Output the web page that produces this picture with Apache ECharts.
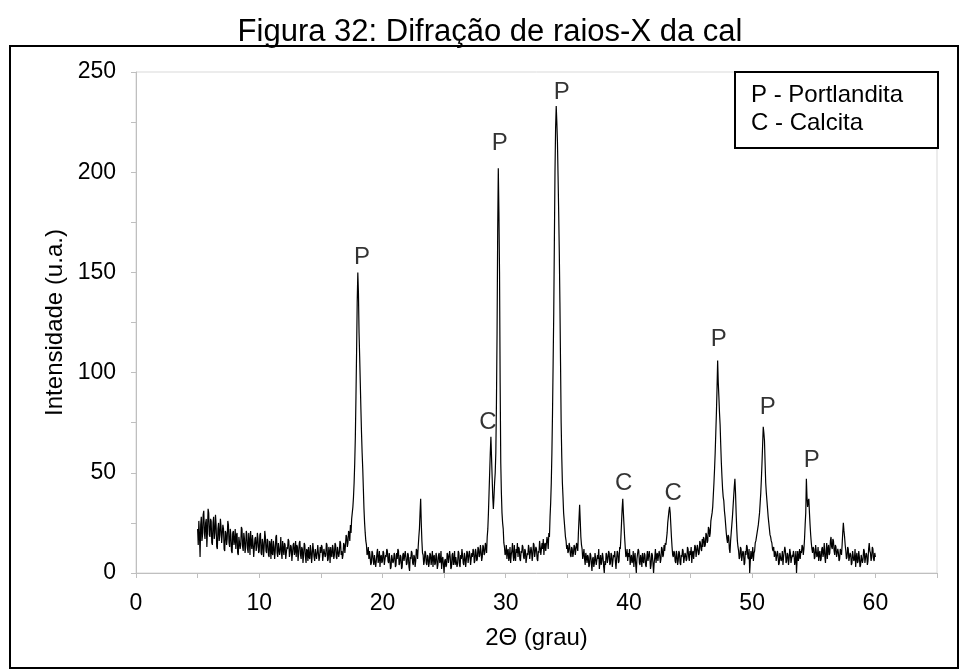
<!DOCTYPE html>
<html><head><meta charset="utf-8">
<script src="https://cdn.jsdelivr.net/npm/echarts@6/dist/echarts.min.js"></script>
<style>html,body{margin:0;padding:0;background:#fff}#c{width:964px;height:672px}</style>
</head><body><div id="c"></div>
<script>
// 2θ sampling grid of the measured pattern
const angleStart = 5.0;
const angleStep = 0.05;
// Intensity (u.a.), one row per degree (x.00 .. x.95)
const intensity = [
22,14,26,19,8,24,28,16,19,29,31,20,17,25,27,13,21,32,30,19,
18,27,26,15,14,25,28,17,20,29,24,13,12,22,25,16,19,27,23,15,
15,24,22,12,11,21,20,14,17,26,24,15,13,22,19,11,10,20,21,14,
16,22,12,19,20,10,9,18,18,12,14,23,22,13,11,20,17,10,13,21,
19,12,10,20,16,9,21,15,12,19,15,8,8,17,18,11,13,20,17,10,
11,19,20,10,9,17,15,8,13,21,18,11,10,17,16,9,8,16,14,7,
17,10,9,16,13,7,11,18,19,10,8,15,15,9,12,18,10,7,16,12,
9,15,14,7,7,13,12,17,16,8,10,14,13,6,6,14,15,9,11,16,
8,14,13,6,10,15,16,9,7,13,12,5,9,15,14,8,5,12,11,6,
13,8,7,14,11,5,9,15,15,8,6,12,12,7,10,14,14,6,8,13,
10,14,13,6,6,12,12,8,9,15,14,6,7,13,11,5,13,9,8,14,
12,7,9,15,14,8,7,13,13,8,10,16,15,9,11,7,9,15,14,10,
14,19,18,13,15,21,20,16,24,20,27,30,33,38,45,55,68,88,110,135,
150,140,120,108,95,82,70,60,52,42,32,25,20,16,14,9,10,13,7,11,
8,4,5,11,10,6,4,9,9,3,6,10,12,5,7,11,3,8,9,5,
6,11,10,4,4,9,8,12,11,6,5,10,7,2,3,9,9,5,6,10,
9,3,4,10,7,12,11,4,5,9,8,2,3,9,10,6,6,11,8,4,
5,10,9,3,1,8,7,11,10,5,4,9,8,3,6,12,11,7,13,18,
22,30,37,25,16,10,9,4,6,11,10,5,4,9,8,3,5,10,9,4,
7,11,3,8,9,4,5,10,8,2,4,9,10,5,6,11,2,7,8,4,
0,6,7,3,4,10,9,5,5,11,8,2,3,9,10,4,6,11,4,8,
8,3,5,11,10,4,3,9,7,12,9,5,4,10,8,3,6,11,10,5,
5,11,9,4,4,10,8,12,11,5,6,12,10,6,7,13,12,8,9,14,
11,6,8,14,13,9,10,15,13,10,18,22,30,40,50,60,68,58,48,38,
32,38,45,50,60,85,120,170,202,180,150,95,55,40,30,25,22,15,13,9,
10,14,7,11,12,6,8,13,5,9,11,15,9,6,14,8,6,12,10,15,
8,13,12,7,6,11,10,14,13,8,7,12,11,5,5,10,9,14,12,7,
7,13,11,6,9,15,14,8,8,13,12,7,6,11,10,16,13,9,9,15,
12,17,9,14,15,11,11,18,16,12,20,18,28,35,45,60,80,105,130,165,
200,222,233,225,215,198,180,160,135,105,75,58,45,38,30,26,22,18,16,12,
14,10,11,15,13,9,8,13,12,8,10,14,13,9,9,15,15,11,20,27,
34,26,18,14,12,7,9,12,7,4,10,8,5,9,8,3,4,10,9,5,
1,7,8,3,5,10,10,4,4,9,7,12,2,6,9,4,6,10,8,3,
0,6,4,10,9,5,7,11,10,4,5,10,9,3,3,9,8,11,6,2,
7,11,10,5,6,13,12,18,25,32,37,30,24,18,13,8,9,12,6,10,
8,12,4,7,9,5,6,11,3,8,10,4,0,7,7,12,11,5,4,9,
7,3,10,6,5,10,9,4,3,8,11,6,6,11,8,2,4,10,9,5,
0,5,8,12,5,9,10,6,6,11,9,5,7,13,12,8,9,14,11,15,
14,17,20,25,28,31,33,30,24,18,13,9,8,11,10,6,5,11,9,4,
6,11,10,5,4,9,8,12,11,5,5,10,9,6,7,13,12,8,6,11,
9,13,5,10,11,7,7,14,13,8,8,14,12,9,10,16,15,12,11,17,
13,18,17,13,14,20,19,15,16,23,22,18,20,26,26,30,33,39,45,52,
60,70,80,92,106,95,88,80,74,64,55,48,42,38,36,31,28,24,20,17,
15,19,18,12,10,16,20,24,28,33,38,43,47,40,30,22,16,13,11,7,
8,13,12,6,6,11,10,4,5,11,9,14,13,8,7,12,0,6,11,7,
9,13,6,10,11,15,16,18,20,22,24,27,30,35,40,47,55,64,73,70,
66,55,45,40,36,32,28,25,22,19,18,16,15,12,11,13,8,11,10,6,
6,11,9,4,5,10,10,6,7,11,4,8,8,13,11,5,6,10,9,4,
7,12,10,5,5,9,8,11,9,4,6,11,0,7,11,6,8,12,7,11,
10,14,13,9,12,17,24,30,47,38,33,36,37,30,24,19,15,12,10,13,
12,7,8,14,14,8,9,13,6,10,11,6,7,12,13,8,10,15,8,5,
11,15,7,12,14,9,10,16,18,13,12,17,16,11,9,14,13,8,8,12,
10,6,7,12,12,9,14,20,25,21,18,14,11,7,8,13,12,6,6,10,
9,4,5,11,11,6,7,12,3,8,10,5,6,11,8,3,4,9,9,5,
7,12,11,5,5,10,9,4,6,12,15,11,10,6,8,13,12,7,6,10,
8
];
// Peak identification labels
const labelText = ['P','C','P','P','C','C','P','P','P'];
const labelAngle = [18.33, 28.55, 29.52, 34.55, 39.58, 43.59, 47.28, 51.26, 54.83];
const labelIntensity = [157.3, 75.4, 214.3, 239.8, 44.9, 39.9, 116.6, 82.7, 56.3];
// Tick labels
const xTickLabels = [0,10,20,30,40,50,60];
const yTickLabels = [0,50,100,150,200,250];
const legendLines = ['P - Portlandita','C - Calcita'];
const titleText = 'Figura 32: Difração de raios-X da cal';
const xTitle = '2\u0398 (grau)';
const yTitle = 'Intensidade (u.a.)';

const FF = '"Liberation Sans", Arial, sans-serif';
const seriesData = intensity.map((v,i)=>[+(angleStart + i*angleStep).toFixed(2), v]);
const labelData = labelText.map((t,i)=>({value:[labelAngle[i], labelIntensity[i]], name:t}));

const chart = echarts.init(document.getElementById('c'), null, {renderer:'canvas'});
chart.setOption({
  animation:false,
  backgroundColor:'#fff',
  grid:{left:136, top:72, width:801, height:501, show:true, borderColor:'#d9d9d9', borderWidth:1, containLabel:false},
  xAxis:{type:'value', min:0, max:65, interval:5,
    axisLine:{show:true, onZero:false, lineStyle:{color:'#bfbfbf', width:1}},
    axisTick:{show:true, length:5, lineStyle:{color:'#bfbfbf'}},
    splitLine:{show:false},
    axisLabel:{margin:19, color:'#000', fontSize:23, fontFamily:FF,
      formatter:v=> xTickLabels.includes(v) ? String(v) : ''}},
  yAxis:{type:'value', min:0, max:250, interval:25,
    axisLine:{show:true, lineStyle:{color:'#bfbfbf', width:1}},
    axisTick:{show:true, length:5, lineStyle:{color:'#bfbfbf'}},
    splitLine:{show:false},
    axisLabel:{margin:20, color:'#000', fontSize:23, fontFamily:FF,
      formatter:v=> yTickLabels.includes(v) ? String(v) : ''}},
  series:[
    {type:'line', data:seriesData, showSymbol:false, symbol:'none', sampling:null,
     lineStyle:{color:'#000', width:1.2}, z:3, silent:true},
    {type:'scatter', data:labelData, symbolSize:0, z:4, silent:true,
     label:{show:true, position:'inside', formatter:p=>p.name, color:'#000', fontSize:24, fontFamily:FF}}
  ],
  graphic:[
    {type:'rect', shape:{x:10, y:46, width:948, height:622}, style:{fill:'none', stroke:'#000', lineWidth:2}, z:10},
    {type:'text', x:490, y:32, style:{text:titleText, font:'31px '+FF, fill:'#000', align:'center', verticalAlign:'middle', textAlign:'center', textVerticalAlign:'middle'}},
    {type:'text', x:536.5, y:638.5, style:{text:xTitle, font:'24px '+FF, fill:'#000', align:'center', verticalAlign:'middle', textAlign:'center', textVerticalAlign:'middle'}},
    {type:'text', x:55, y:322.5, rotation:Math.PI/2, style:{text:yTitle, font:'24px '+FF, fill:'#000', align:'center', verticalAlign:'middle', textAlign:'center', textVerticalAlign:'middle'}},
    {type:'rect', shape:{x:735, y:72, width:203, height:76}, style:{fill:'#fff', stroke:'#000', lineWidth:2}, z:20},
    {type:'text', x:751, y:95.5, z:21, style:{text:legendLines[0], font:'24px '+FF, fill:'#000', align:'left', verticalAlign:'middle', textAlign:'left', textVerticalAlign:'middle'}},
    {type:'text', x:751, y:123, z:21, style:{text:legendLines[1], font:'24px '+FF, fill:'#000', align:'left', verticalAlign:'middle', textAlign:'left', textVerticalAlign:'middle'}}
  ]
});
</script>
</body></html>
